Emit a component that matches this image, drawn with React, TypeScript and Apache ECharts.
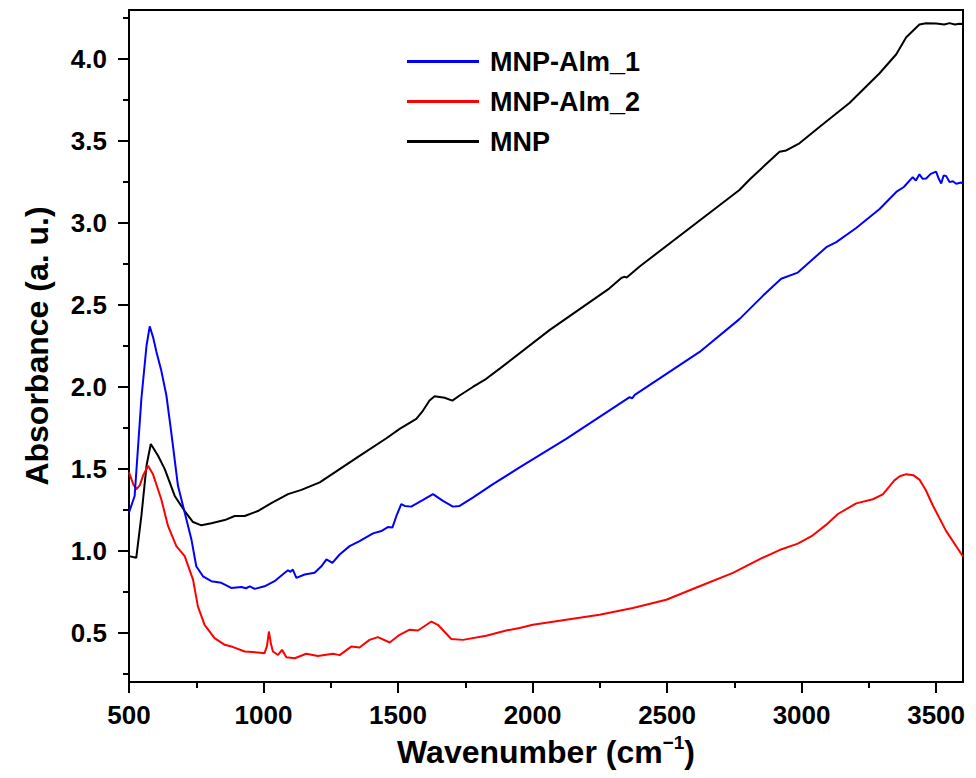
import React, { useEffect, useRef } from "react";
import * as echarts from "echarts";

// ---- Data ----
const alm1X = [500, 521, 546, 565, 577, 590, 602, 620, 639, 657, 682, 707, 732, 750, 775, 806, 843, 880, 918, 935, 949, 967, 1004, 1041, 1079, 1091, 1100, 1109, 1122, 1153, 1190, 1215, 1234, 1256, 1283, 1320, 1357, 1407, 1438, 1462, 1479, 1494, 1512, 1525, 1549, 1593, 1630, 1667, 1704, 1729, 1778, 1853, 1952, 2125, 2361, 2370, 2380, 2621, 2769, 2856, 2924, 2986, 3092, 3129, 3203, 3290, 3352, 3380, 3413, 3425, 3438, 3450, 3463, 3480, 3500, 3510, 3519, 3528, 3537, 3550, 3562, 3575, 3593, 3600];
const alm1Y = [1.234, 1.335, 1.928, 2.25, 2.37, 2.3, 2.214, 2.1, 1.948, 1.724, 1.397, 1.234, 1.07, 0.906, 0.845, 0.815, 0.805, 0.774, 0.78, 0.772, 0.784, 0.768, 0.784, 0.815, 0.866, 0.882, 0.872, 0.886, 0.835, 0.856, 0.866, 0.906, 0.948, 0.927, 0.978, 1.029, 1.06, 1.107, 1.121, 1.145, 1.142, 1.213, 1.285, 1.274, 1.27, 1.311, 1.346, 1.305, 1.27, 1.274, 1.325, 1.407, 1.509, 1.683, 1.938, 1.93, 1.952, 2.214, 2.414, 2.556, 2.66, 2.698, 2.853, 2.884, 2.97, 3.086, 3.19, 3.22, 3.28, 3.26, 3.298, 3.27, 3.272, 3.3, 3.314, 3.27, 3.241, 3.29, 3.288, 3.25, 3.255, 3.24, 3.247, 3.24];

const alm2X = [500, 515, 527, 540, 552, 571, 589, 620, 645, 676, 707, 738, 756, 781, 818, 856, 887, 930, 979, 1004, 1013, 1020, 1028, 1035, 1054, 1069, 1085, 1116, 1159, 1202, 1258, 1283, 1326, 1357, 1394, 1425, 1469, 1506, 1543, 1574, 1624, 1648, 1698, 1741, 1828, 1902, 1952, 2001, 2125, 2249, 2373, 2497, 2621, 2745, 2850, 2918, 2986, 3042, 3092, 3135, 3203, 3265, 3302, 3325, 3345, 3365, 3389, 3415, 3438, 3462, 3488, 3537, 3600];
const alm2Y = [1.479, 1.41, 1.376, 1.4, 1.458, 1.519, 1.468, 1.315, 1.152, 1.029, 0.968, 0.825, 0.661, 0.549, 0.468, 0.427, 0.413, 0.386, 0.38, 0.376, 0.42, 0.508, 0.43, 0.386, 0.365, 0.396, 0.351, 0.345, 0.372, 0.359, 0.372, 0.364, 0.416, 0.41, 0.457, 0.474, 0.441, 0.488, 0.519, 0.514, 0.569, 0.549, 0.462, 0.457, 0.482, 0.514, 0.529, 0.549, 0.58, 0.61, 0.652, 0.702, 0.784, 0.866, 0.954, 1.005, 1.044, 1.095, 1.16, 1.225, 1.29, 1.315, 1.345, 1.39, 1.43, 1.455, 1.468, 1.462, 1.435, 1.37, 1.277, 1.122, 0.966];

const mnpX = [500, 527, 546, 565, 581, 608, 633, 670, 707, 738, 769, 806, 856, 893, 930, 979, 1029, 1091, 1141, 1209, 1283, 1357, 1457, 1506, 1568, 1593, 1617, 1636, 1673, 1702, 1729, 1778, 1828, 1878, 2063, 2286, 2330, 2340, 2350, 2398, 2769, 2807, 2850, 2918, 2943, 2992, 3079, 3178, 3290, 3352, 3389, 3438, 3463, 3500, 3530, 3550, 3570, 3587, 3600];
const mnpY = [0.968, 0.958, 1.213, 1.519, 1.652, 1.58, 1.499, 1.335, 1.243, 1.176, 1.156, 1.168, 1.188, 1.213, 1.213, 1.243, 1.291, 1.346, 1.372, 1.418, 1.499, 1.58, 1.687, 1.744, 1.805, 1.856, 1.917, 1.944, 1.934, 1.917, 1.948, 2.0, 2.05, 2.112, 2.347, 2.602, 2.665, 2.672, 2.668, 2.735, 3.202, 3.266, 3.332, 3.435, 3.443, 3.487, 3.603, 3.733, 3.914, 4.03, 4.134, 4.211, 4.219, 4.217, 4.212, 4.22, 4.212, 4.216, 4.215];

const xMajorTicks = [500, 1000, 1500, 2000, 2500, 3000, 3500];
const xMinorTicks = [750, 1250, 1750, 2250, 2750, 3250];
const yMajorTicks = [0.5, 1.0, 1.5, 2.0, 2.5, 3.0, 3.5, 4.0];
const yMinorTicks = [0.25, 0.75, 1.25, 1.75, 2.25, 2.75, 3.25, 3.75, 4.25];

const seriesNames = ["MNP-Alm_1", "MNP-Alm_2", "MNP"];
const seriesColors = ["#0000ff", "#ff0000", "#000000"];

const FONT = "'Liberation Sans', Arial, Helvetica, sans-serif";

function zip(xs: number[], ys: number[]) {
  return xs.map((x, i) => [x, ys[i]]);
}

export default function App() {
  const ref = useRef<HTMLDivElement>(null);
  useEffect(() => {
    document.body.style.margin = "0";
    if (!ref.current) return;
    const chart = echarts.init(ref.current, undefined, { renderer: "svg" });
    const seriesData = [zip(alm1X, alm1Y), zip(alm2X, alm2Y), zip(mnpX, mnpY)];
    const option: any = {
      animation: false,
      backgroundColor: "#ffffff",
      grid: {
        left: 129,
        right: 13,
        top: 10,
        bottom: 96,
        show: true,
        borderColor: "#000",
        borderWidth: 2,
        backgroundColor: "transparent",
      },
      legend: {
        orient: "vertical",
        left: 407,
        top: 48,
        padding: 0,
        itemWidth: 72,
        itemHeight: 3,
        itemGap: 13,
        icon: "rect",
        data: seriesNames,
        textStyle: {
          fontFamily: FONT,
          fontSize: 27,
          fontWeight: "bold",
          color: "#000",
          padding: [0, 0, 0, 6],
        },
      },
      xAxis: [
        {
          type: "value",
          min: 500,
          max: 3600,
          position: "bottom",
          axisLine: { show: true, onZero: false, lineStyle: { color: "#000", width: 2 } },
          axisTick: { show: true, length: 11, lineStyle: { color: "#000", width: 2 }, customValues: xMajorTicks },
          axisLabel: {
            customValues: xMajorTicks,
            formatter: (v: number) => String(Math.round(v)),
            fontFamily: FONT,
            fontSize: 26,
            fontWeight: "bold",
            color: "#000",
            margin: 20,
          },
          splitLine: { show: false },
          name: "{a|Wavenumber (cm}{s|−1}{a|)}",
          nameLocation: "middle",
          nameGap: 48,
          nameTextStyle: {
            rich: {
              a: { fontFamily: FONT, fontSize: 32, fontWeight: "bold", color: "#000", lineHeight: 38 },
              s: { fontFamily: FONT, fontSize: 19, fontWeight: "bold", color: "#000", verticalAlign: "top" },
            },
          },
        },
        {
          type: "value",
          min: 500,
          max: 3600,
          position: "bottom",
          axisLine: { show: false, onZero: false },
          axisTick: { show: true, length: 6, lineStyle: { color: "#000", width: 2 }, customValues: xMinorTicks },
          axisLabel: { show: false },
          splitLine: { show: false },
        },
      ],
      yAxis: [
        {
          type: "value",
          min: 0.2,
          max: 4.3,
          position: "left",
          axisLine: { show: true, onZero: false, lineStyle: { color: "#000", width: 2 } },
          axisTick: { show: true, length: 11, lineStyle: { color: "#000", width: 2 }, customValues: yMajorTicks },
          axisLabel: {
            customValues: yMajorTicks,
            formatter: (v: number) => v.toFixed(1),
            fontFamily: FONT,
            fontSize: 26,
            fontWeight: "bold",
            color: "#000",
            margin: 22,
          },
          splitLine: { show: false },
          name: "Absorbance (a. u.)",
          nameLocation: "middle",
          nameGap: 76,
          nameTextStyle: { fontFamily: FONT, fontSize: 32, fontWeight: "bold", color: "#000" },
        },
        {
          type: "value",
          min: 0.2,
          max: 4.3,
          position: "left",
          axisLine: { show: false, onZero: false },
          axisTick: { show: true, length: 6, lineStyle: { color: "#000", width: 2 }, customValues: yMinorTicks },
          axisLabel: { show: false },
          splitLine: { show: false },
        },
      ],
      series: seriesNames.map((name, i) => ({
        name,
        type: "line",
        xAxisIndex: 0,
        yAxisIndex: 0,
        data: seriesData[i],
        showSymbol: false,
        symbol: "none",
        smooth: false,
        lineStyle: { color: seriesColors[i], width: 2 },
        itemStyle: { color: seriesColors[i] },
        z: 3 - i,
      })),
    };
    chart.setOption(option);
    return () => chart.dispose();
  }, []);
  return <div ref={ref} style={{ width: 976, height: 778 }} />;
}
